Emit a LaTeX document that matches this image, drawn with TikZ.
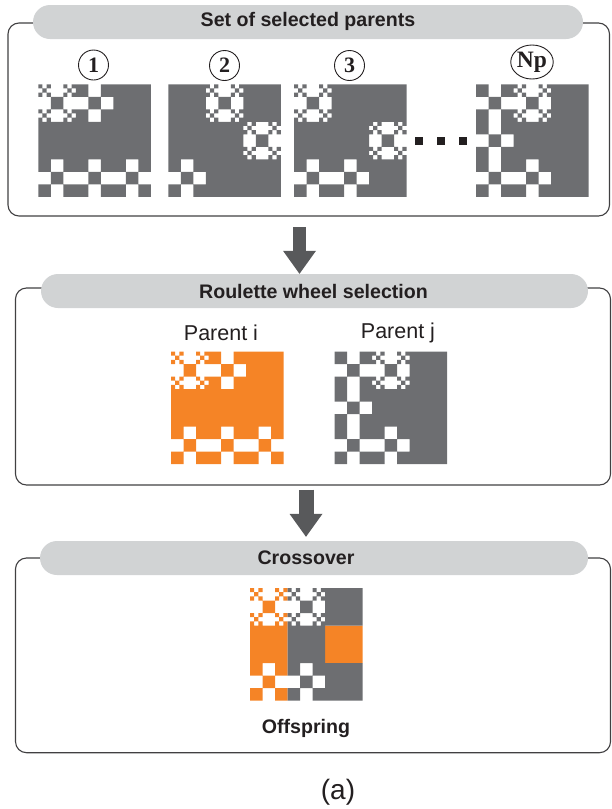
\documentclass[tikz,border=0pt]{standalone}
\usepackage{fontspec}
\setmainfont{Liberation Sans}
\newfontfamily\numfont{Liberation Serif}
\usetikzlibrary{arrows.meta,shapes.geometric}

\definecolor{cellgray}{HTML}{6D6E71}
\definecolor{cellorange}{HTML}{F58426}
\definecolor{pillgray}{HTML}{D1D3D4}
\definecolor{framegray}{HTML}{414042}
\definecolor{arrowgray}{HTML}{58595B}
\definecolor{inkblack}{HTML}{231F20}

% cell size of the 9x9 design grids
\def\cs{12.5}
% square path piece: corner x, corner y, side
\newcommand\sqat[3]{\pgfpathrectangle{\pgfpointxy{#1}{#2}}{\pgfpointxy{#3}{#3}}}
% one full cell (row, col)
\newcommand\cellF[2]{\sqat{\gx+(#2)*\cs}{\gy+(#1)*\cs}{\cs}}
% one cell split 3x3 with corners and centre filled
\newcommand\cellS[2]{%
  \sqat{\gx+(#2)*\cs}{\gy+(#1)*\cs}{\cs/3}%
  \sqat{\gx+(#2+2/3)*\cs}{\gy+(#1)*\cs}{\cs/3}%
  \sqat{\gx+(#2+1/3)*\cs}{\gy+(#1+1/3)*\cs}{\cs/3}%
  \sqat{\gx+(#2)*\cs}{\gy+(#1+2/3)*\cs}{\cs/3}%
  \sqat{\gx+(#2+2/3)*\cs}{\gy+(#1+2/3)*\cs}{\cs/3}}
% 3x3 blocks (block row, block col): solid, cross, ring
\newcommand\blockF[2]{\sqat{\gx+3*(#2)*\cs}{\gy+3*(#1)*\cs}{3*\cs}}
\newcommand\blockX[2]{\cellF{3*(#1)}{3*(#2)}\cellF{3*(#1)}{3*(#2)+2}%
  \cellF{3*(#1)+1}{3*(#2)+1}\cellF{3*(#1)+2}{3*(#2)}\cellF{3*(#1)+2}{3*(#2)+2}}
\newcommand\blockR[2]{\cellS{3*(#1)}{3*(#2)}\cellS{3*(#1)}{3*(#2)+2}%
  \cellF{3*(#1)+1}{3*(#2)+1}\cellS{3*(#1)+2}{3*(#2)}\cellS{3*(#1)+2}{3*(#2)+2}}
% a design: origin x, origin y, colour, block list (filled as one path)
\newcommand\design[4]{\def\gx{#1}\def\gy{#2}%
  \begin{pgfscope}\pgfsetfillcolor{#3}#4\pgfusepath{fill}\end{pgfscope}}

% the four designs used below
\newcommand\designA{\blockR00\blockX01\blockF02\blockF10\blockF11\blockF12\blockX20\blockX21\blockX22}
\newcommand\designB{\blockF00\blockR01\blockF02\blockF10\blockF11\blockR12\blockX20\blockF21\blockF22}
\newcommand\designC{\blockR00\blockF01\blockF02\blockF10\blockF11\blockR12\blockX20\blockX21\blockF22}
\newcommand\designD{\blockX00\blockR01\blockF02\blockX10\blockF11\blockF12\blockX20\blockX21\blockF22}

\begin{document}
\begin{tikzpicture}[x=1pt,y=-1pt,
  panel/.style={draw=framegray, line width=1.1pt, rounded corners=11pt, inner sep=0pt},
  pill/.style={fill=pillgray, rounded corners=17pt, inner sep=0pt, minimum height=34pt},
  header/.style={font=\bfseries\fontsize{19.6}{21}\selectfont, text=inkblack, inner sep=0pt},
  plabel/.style={font=\fontsize{21.5}{23}\selectfont, text=inkblack, inner sep=0pt},
  numcirc/.style={circle, draw=inkblack, line width=0.9pt, minimum size=30pt, inner sep=0pt,
    font=\numfont\bfseries\fontsize{22}{22}\selectfont, text=inkblack},
  dotsq/.style={fill=inkblack, minimum size=7.7pt, inner sep=0pt},
  bigarrow/.style={draw=arrowgray, line width=13pt,
    -{Triangle[width=33pt,length=23pt,line width=0pt,fill=arrowgray]}}]
\useasboundingbox (0,0) rectangle (611,809);

% panels
\node[panel, minimum width=601.5pt, minimum height=193pt] (box1) at (308.75,119.5) {};
\node[panel, minimum width=595pt, minimum height=197pt] (box2) at (313,386.5) {};
\node[panel, minimum width=595pt, minimum height=194.7pt] (box3) at (313,655.35) {};

% header pills
\node[pill, minimum width=550pt] (pill1) at (308,22) {};
\node[pill, minimum width=547pt] (pill2) at (314.5,291) {};
\node[pill, minimum width=548pt] (pill3) at (314,558) {};
\node[header] (h1) at (308,21.5) {Set of selected parents};
\node[header] (h2) at (313.5,291) {Roulette wheel selection};
\node[header] (h3) at (306,558) {Crossover};

% selected parents
\node[numcirc] (n1) at (93.5,65) {1};
\node[numcirc] (n2) at (224.5,65.5) {2};
\node[numcirc] (n3) at (349.5,65.5) {3};
\node[numcirc, ellipse, minimum width=38pt, minimum height=34pt,
  font=\numfont\bfseries\fontsize{23.5}{23.5}\selectfont] (nN) at (532,62) {Np};
\design{38.3}{84.3}{cellgray}{\designA}
\design{168.3}{84.3}{cellgray}{\designB}
\design{294}{84.3}{cellgray}{\designC}
\design{476}{84.3}{cellgray}{\designD}
\node[dotsq] (d1) at (418.85,141.15) {};
\node[dotsq] (d2) at (440.85,141.15) {};
\node[dotsq] (d3) at (462.85,141.15) {};

% roulette wheel selection
\node[plabel] (pi) at (221,333) {Parent i};
\node[plabel] (pj) at (398,333) {Parent j};
\design{171}{351.5}{cellorange}{\designA}
\design{334.5}{351.5}{cellgray}{\designD}

% crossover offspring
\design{250}{588}{cellorange}{\blockR00\blockF10\blockF12\blockX20}
\design{250}{588}{cellgray}{\blockR01\blockF02\blockF11\blockX21\blockF22}
\node[header] (off) at (306,728) {Offspring};

% caption
\node[font=\fontsize{28}{30}\selectfont, text=inkblack, inner sep=0pt] (cap) at (338,792) {(a)};

% arrows between stages
\coordinate (a1s) at ([xshift=-9.25pt,yshift=-10.7pt]box1.south);
\coordinate (a1e) at (a1s |- pill2.north);
\draw[bigarrow] (a1s) -- (a1e);
\coordinate (a2s) at ([xshift=-7pt,yshift=-4pt]box2.south);
\coordinate (a2e) at ([yshift=4pt]a2s |- pill3.north);
\draw[bigarrow, line width=15pt] (a2s) -- (a2e);
\end{tikzpicture}
\end{document}
